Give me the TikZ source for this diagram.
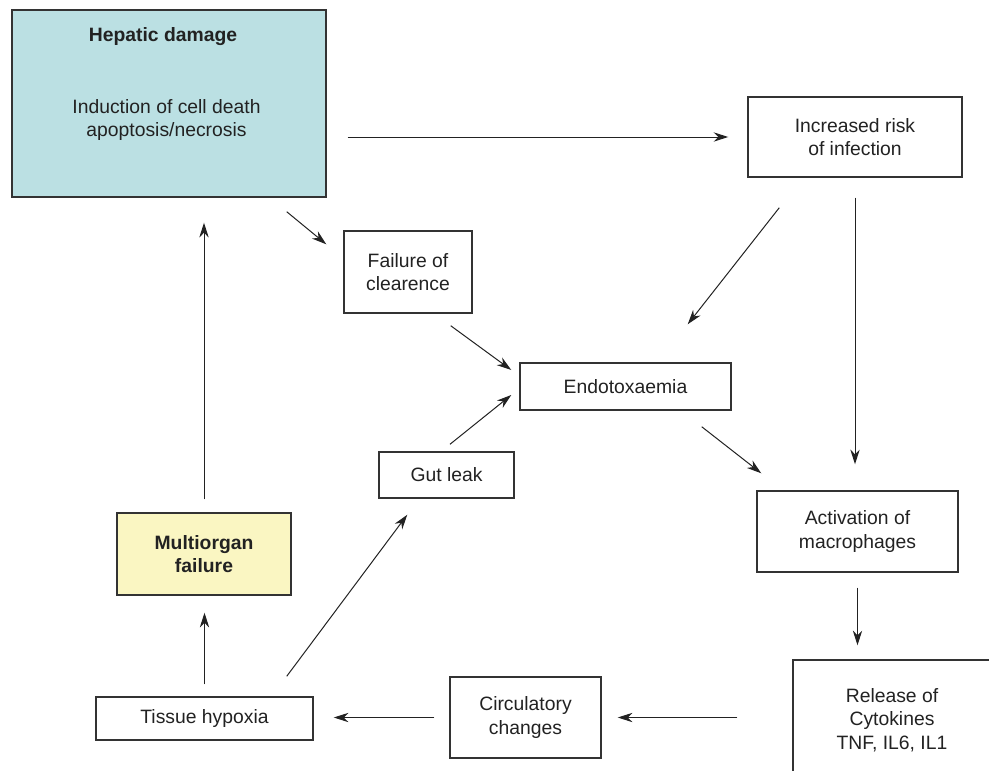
\documentclass[tikz,border=0pt]{standalone}
\usepackage{fontspec}
\setmainfont{Liberation Sans}
\usetikzlibrary{arrows.meta,calc}
\definecolor{hepfill}{HTML}{BBE0E3}
\definecolor{mofill}{HTML}{FAF6C2}
\definecolor{ink}{HTML}{222222}
\definecolor{edge}{HTML}{333333}
\begin{document}
\begin{tikzpicture}[x=0.75pt,y=-0.75pt,
  font=\fontsize{14.5}{17.5}\selectfont,
  box/.style={draw=edge,line width=1.1pt,fill=white,inner sep=0pt,align=center,text=ink},
  label/.style={inner sep=0pt,align=center,text=ink},
  arr/.style={draw=ink,line width=0.75pt,-{Stealth[length=11pt,width=7pt,inset=3.5pt]}}]
\useasboundingbox (0,0) rectangle (989,771);

% boxes
\node[box,fill=hepfill,minimum width=235.5pt,minimum height=140.25pt] (hep) at (169,103.5) {};
\node[label,font=\fontsize{14.5}{17.5}\selectfont\bfseries] (heptitle) at (163,37) {Hepatic damage};
\node[label] (heptext) at (166.5,120) {Induction of cell death\\apoptosis/necrosis};

\node[box,minimum width=160.5pt,minimum height=60pt] (inc) at (855,137) {Increased risk\\of infection};
\node[box,minimum width=96pt,minimum height=61.5pt] (fail) at (408,272) {Failure of\\clearence};
\node[box,minimum width=158.25pt,minimum height=35.25pt] (endo) at (625.5,386.5) {Endotoxaemia};
\node[box,minimum width=101.25pt,minimum height=34.5pt] (gut) at (446.5,475) {Gut leak};
\node[box,minimum width=150.75pt,minimum height=60.75pt] (act) at (857.5,531.5) {Activation of\\macrophages};
\node[box,fill=mofill,minimum width=130.5pt,minimum height=61.5pt,font=\fontsize{14.5}{17.5}\selectfont\bfseries] (mof) at (204,554) {Multiorgan\\failure};
\node[box,minimum width=162.75pt,minimum height=32.25pt] (tis) at (204.5,718.5) {Tissue hypoxia};
\node[box,minimum width=113.25pt,minimum height=60.75pt] (circ) at (525.5,717.5) {Circulatory\\changes};
\node[box,minimum width=148.5pt,minimum height=90pt] (rel) at (892,720) {Release of\\Cytokines\\TNF, IL6, IL1};

% connectors
\draw[arr] ($(hep.east |- inc.west)+(21,0)$) -- ($(inc.west)+(-19,0)$);
\draw[arr] ($(hep.south east)+(-40,14)$) -- ($(fail.north west)+(-17,14)$);
\draw[arr] ($(inc.south west)+(32,30)$) -- ($(endo.north east)+(-44,-38)$);
\draw[arr] ($(inc.south)+(0,20)$) -- ($(inc.south |- act.north)+(0,-26)$);
\draw[arr] ($(fail.south east)+(-22,12)$) -- ($(endo.west)+(-8,-16.5)$);
\draw[arr] ($(gut.north)+(3.5,-7)$) -- ($(endo.west)+(-8,8.5)$);
\draw[arr] ($(endo.south east)+(-30,16)$) -- ($(act.north west)+(5,-17)$);
\draw[arr] ($(act.south)+(0,15)$) -- ($(act.south |- rel.north)+(0,-14)$);
\draw[arr] ($(circ.east -| rel.west)+(-55,0)$) -- ($(circ.east)+(16,0)$);
\draw[arr] ($(circ.west)+(-15,0)$) -- ($(circ.west -| tis.east)+(20,0)$);
\draw[arr] ($(tis.north)+(0,-12)$) -- ($(tis.north |- mof.south)+(0,17)$);
\draw[arr] ($(mof.north)+(0,-13)$) -- ($(mof.north |- hep.south)+(0,25)$);
\draw[arr] ($(tis.north east)+(-27,-20)$) -- ($(gut.south west)+(29,16)$);
\end{tikzpicture}
\end{document}
